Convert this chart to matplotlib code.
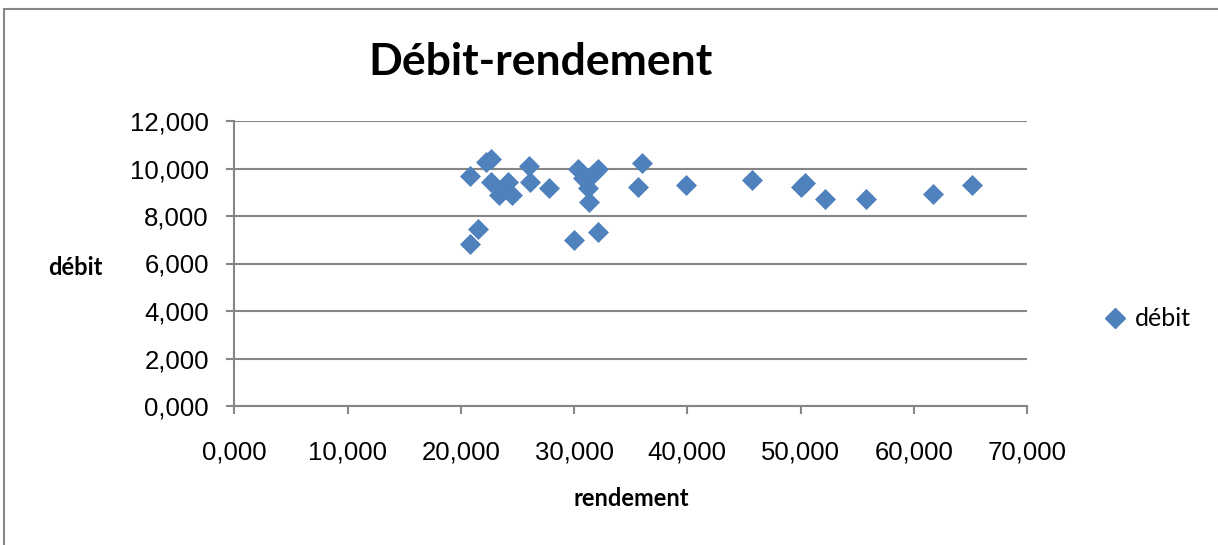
import matplotlib
matplotlib.use("Agg")
import matplotlib.pyplot as plt
from matplotlib.ticker import FuncFormatter
from matplotlib.lines import Line2D
from matplotlib.patches import Rectangle

# rendement (x) and débit (y) for each observation
rendement = [20.8, 21.5, 20.8, 22.2, 22.7, 22.7, 24.2, 23.4, 24.5, 23.8,
             26.0, 26.1, 27.8, 30.35, 32.1, 30.8, 31.25, 31.3, 31.7,
             30.0, 32.1, 36.0, 35.6, 39.9, 45.7, 50.0, 50.4, 52.2, 55.8,
             61.7, 65.1]
debit = [6.81, 7.45, 9.68, 10.28, 10.40, 9.45, 9.45, 8.88, 8.88, 9.15,
         10.10, 9.45, 9.20, 10.00, 10.00, 9.62, 9.17, 8.60, 9.75,
         6.99, 7.31, 10.22, 9.21, 9.31, 9.52, 9.22, 9.40, 8.70, 8.70,
         8.91, 9.31]

x_ticks = [0, 10, 20, 30, 40, 50, 60, 70]
y_ticks = [0, 2, 4, 6, 8, 10, 12]

title = "Débit-rendement"
x_label = "rendement"
y_label = "débit"
series_name = "débit"

blue = "#4F81BD"
grey = "#868686"

fig = plt.figure(figsize=(12.18, 5.45), dpi=100)
fig.patch.set_facecolor("white")

# chart border
fig.add_artist(Rectangle((4 / 1218, -0.1), 1.2, 1.1 - 9 / 545,
                         transform=fig.transFigure, fill=False,
                         edgecolor=grey, linewidth=1.5, clip_on=False))

ax = fig.add_axes([234.5 / 1218, 1 - 406 / 545,
                   (1027 - 234.5) / 1218, (406 - 121) / 545])
ax.set_xlim(x_ticks[0], x_ticks[-1])
ax.set_ylim(y_ticks[0], y_ticks[-1])
ax.set_xticks(x_ticks)
ax.set_yticks(y_ticks)
fmt = FuncFormatter(lambda v, p: f"{v:.3f}".replace(".", ","))
ax.xaxis.set_major_formatter(fmt)
ax.yaxis.set_major_formatter(fmt)

for s in ("top", "right"):
    ax.spines[s].set_visible(False)
for s in ("left", "bottom"):
    ax.spines[s].set_color(grey)
    ax.spines[s].set_linewidth(1.5)
ax.grid(axis="y", color=grey, linewidth=1.5)
ax.set_axisbelow(True)

ax.tick_params(axis="both", colors=grey, width=1.5, length=5.5,
               labelcolor="black", labelsize=18.5, direction="out")
ax.tick_params(axis="y", pad=13)
ax.tick_params(axis="x", pad=19)
for lab in ax.get_xticklabels() + ax.get_yticklabels():
    lab.set_fontfamily("Liberation Sans")

ax.plot(rendement, debit, linestyle="none", marker="D", markersize=10.5,
        color=blue, markeredgecolor=blue, markeredgewidth=0.5,
        clip_on=False, zorder=3)

fig.text(541 / 1218, 1 - 62 / 545, title, ha="center", va="center",
         fontsize=32, fontweight="bold", family="Lato")
fig.text(631 / 1218, 1 - 498 / 545, x_label, ha="center", va="center",
         fontsize=17, fontweight="bold", family="Lato")
fig.text(75 / 1218, 1 - 267 / 545, y_label, ha="center", va="center",
         fontsize=17, fontweight="bold", family="Lato")

handle = Line2D([], [], linestyle="none", marker="D", markersize=10,
                color=blue, markeredgecolor=blue)
fig.legend([handle], [series_name], loc="center left",
           bbox_to_anchor=(1102 / 1218, 1 - 319 / 545), frameon=False,
           prop={"family": "Lato", "size": 18}, handletextpad=0.3,
           borderaxespad=0, borderpad=0, handlelength=1.0)

fig.savefig("out.png", dpi=100, facecolor="white")
